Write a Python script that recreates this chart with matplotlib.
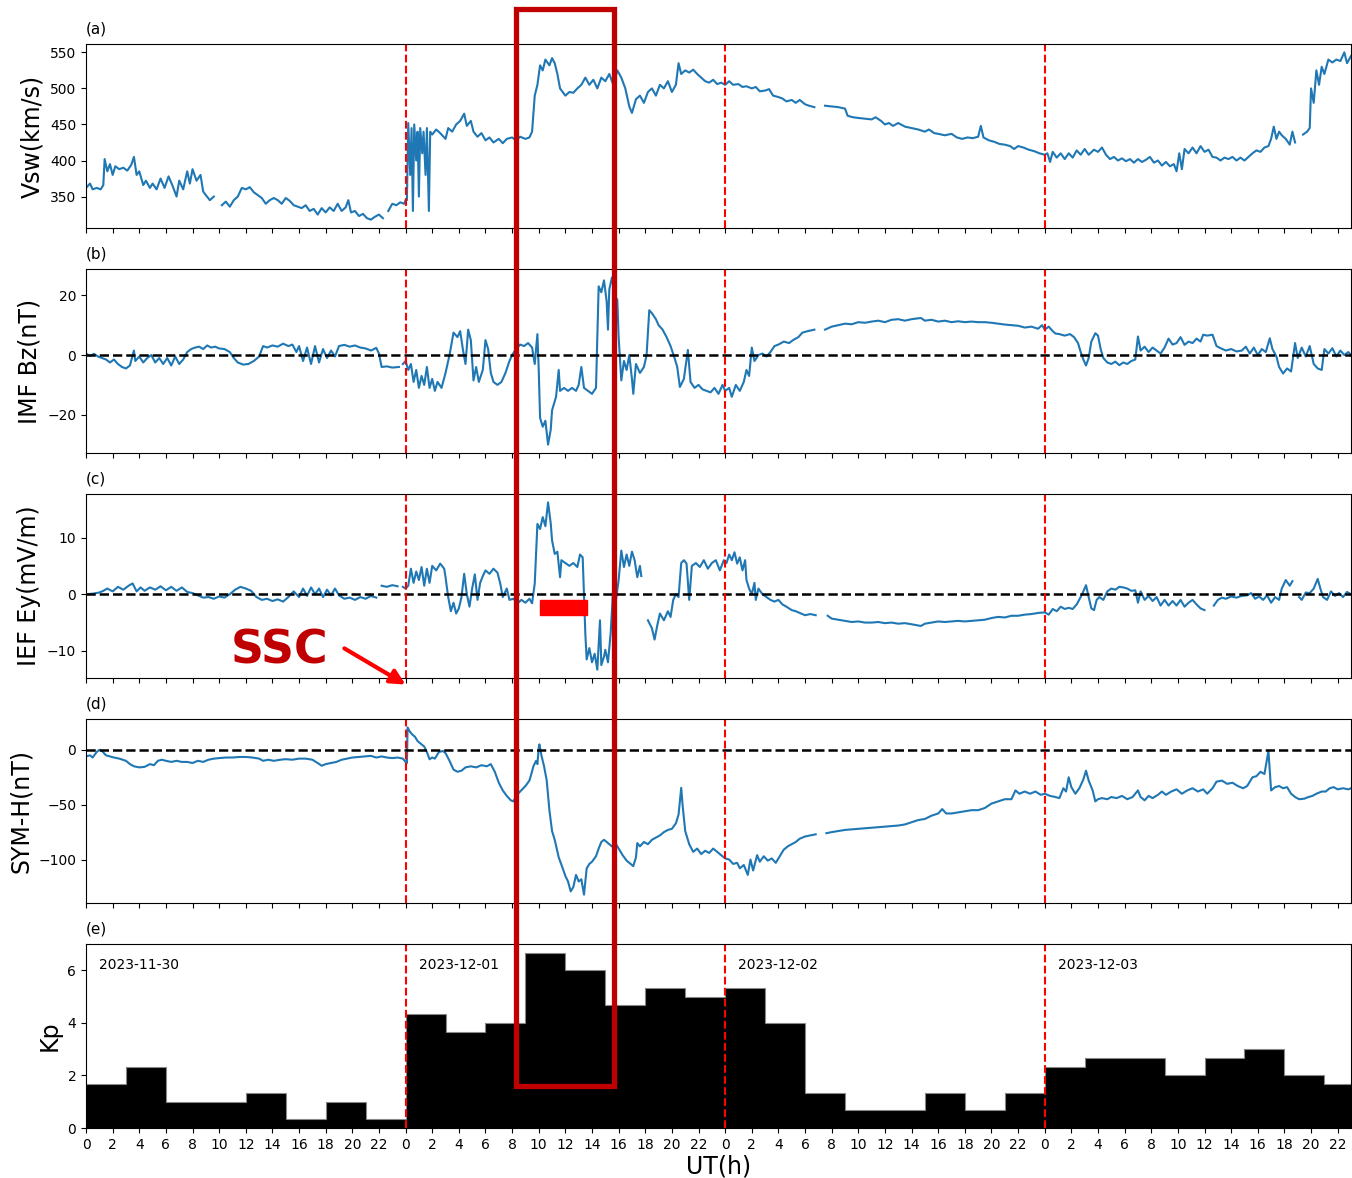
import numpy as np
import matplotlib
matplotlib.use("Agg")
import matplotlib.pyplot as plt
from matplotlib.patches import Rectangle, FancyArrowPatch

nan = np.nan

# (UT hour since 2023-11-30 00:00, value)
vsw = [
    (0.0, 362), (0.3, 368), (0.5, 360), (0.8, 362), (1.1, 360), (1.3, 366), (1.4, 402), (1.6, 385),
    (1.8, 395), (2.0, 380), (2.2, 392), (2.5, 388), (2.8, 390), (3.1, 386), (3.4, 394), (3.6, 405),
    (3.8, 380), (4.0, 385), (4.3, 366), (4.5, 372), (4.8, 362), (5.0, 368), (5.3, 360), (5.6, 375),
    (5.9, 362), (6.2, 378), (6.5, 365), (6.8, 350), (7.0, 372), (7.3, 360), (7.6, 385), (7.8, 368),
    (8.0, 388), (8.3, 372), (8.6, 380), (8.8, 357), (9.0, 352), (9.3, 345), (9.6, 350), (9.8, nan),
    (10.2, 338), (10.5, 343), (10.8, 336), (11.1, 345), (11.4, 350), (11.7, 362), (12.0, 360),
    (12.3, 363), (12.6, 356), (12.9, 352), (13.2, 348), (13.5, 340), (13.8, 345), (14.1, 348),
    (14.4, 345), (14.7, 340), (15.0, 348), (15.3, 344), (15.6, 338), (15.9, 336), (16.2, 334),
    (16.5, 338), (16.8, 330), (17.1, 333), (17.4, 325), (17.7, 334), (18.0, 328), (18.3, 335),
    (18.6, 330), (18.9, 340), (19.2, 330), (19.5, 335), (19.7, 345), (19.9, 328), (20.2, 330),
    (20.5, 323), (20.8, 326), (21.1, 320), (21.4, 318), (21.7, 322), (22.0, 325), (22.3, 320),
    (22.5, nan), (22.7, 330), (23.0, 340), (23.3, 338), (23.6, 342), (23.9, 340), (24.0, 345),
    (24.1, 345), (24.2, 452), (24.35, 380), (24.45, 445), (24.55, 330), (24.65, 450), (24.8, 400),
    (24.9, 440), (25.0, 350), (25.1, 445), (25.25, 410), (25.35, 440), (25.5, 380), (25.6, 445),
    (25.75, 330), (25.85, 440), (26.0, 436), (26.3, 443), (26.6, 438), (27.0, 430), (27.2, 445),
    (27.5, 440), (27.8, 450), (28.1, 455), (28.4, 465), (28.6, 448), (28.9, 455), (29.1, 440),
    (29.4, 433), (29.7, 438), (30.0, 428), (30.3, 432), (30.6, 425), (31.0, 430), (31.3, 424),
    (31.6, 430), (32.0, 432), (32.3, 428), (32.6, 433), (33.0, 430), (33.3, 432), (33.5, 440),
    (33.7, 490), (33.9, 505), (34.1, 532), (34.3, 525), (34.5, 540), (34.8, 532), (35.0, 542),
    (35.2, 535), (35.4, 520), (35.6, 500), (35.8, 495), (36.0, 490), (36.3, 495), (36.6, 494),
    (36.9, 500), (37.2, 505), (37.5, 515), (37.8, 505), (38.1, 512), (38.4, 500), (38.7, 515),
    (39.0, 510), (39.3, 520), (39.6, 505), (39.9, 525), (40.2, 515), (40.5, 500), (40.8, 475),
    (41.0, 466), (41.3, 485), (41.6, 490), (41.9, 480), (42.2, 495), (42.5, 500), (42.8, 490),
    (43.1, 505), (43.4, 500), (43.7, 510), (44.0, 495), (44.3, 505), (44.5, 535), (44.7, 520),
    (45.0, 525), (45.3, 522), (45.6, 526), (45.9, 520), (46.2, 515), (46.5, 510), (46.8, 508),
    (47.1, 512), (47.4, 506), (47.7, 508), (48.0, 505), (48.3, 510), (48.6, 505), (49.0, 506),
    (49.3, 502), (49.6, 503), (50.0, 500), (50.3, 502), (50.6, 496), (51.0, 497), (51.3, 499),
    (51.6, 490), (52.0, 488), (52.3, 486), (52.6, 482), (53.0, 484), (53.3, 480), (53.6, 484),
    (54.0, 478), (54.3, 476), (54.7, 474), (55.1, nan), (55.5, 476), (56.0, 475), (56.5, 474),
    (57.0, 472), (57.2, 462), (57.6, 460), (58.0, 459), (58.5, 458), (59.0, 457), (59.3, 460),
    (59.7, 455), (60.0, 450), (60.3, 452), (60.6, 448), (61.0, 452), (61.5, 447), (62.0, 445),
    (62.5, 443), (63.0, 440), (63.3, 443), (63.7, 438), (64.0, 437), (64.5, 435), (65.0, 437),
    (65.4, 432), (65.8, 430), (66.2, 432), (66.6, 431), (67.0, 433), (67.2, 448), (67.4, 432),
    (67.8, 428), (68.2, 426), (68.6, 423), (69.0, 422), (69.4, 420), (69.7, 416), (70.0, 420),
    (70.4, 418), (70.8, 415), (71.2, 413), (71.6, 410), (72.0, 408), (72.2, 410), (72.4, 398),
    (72.6, 412), (72.9, 404), (73.2, 410), (73.5, 402), (73.8, 410), (74.1, 404), (74.4, 414),
    (74.7, 408), (75.0, 416), (75.3, 408), (75.7, 415), (76.0, 412), (76.3, 418), (76.6, 408),
    (76.9, 402), (77.2, 405), (77.5, 400), (77.8, 403), (78.1, 399), (78.4, 402), (78.7, 397),
    (79.0, 402), (79.3, 398), (79.6, 401), (79.9, 405), (80.2, 397), (80.5, 400), (80.8, 393),
    (81.1, 398), (81.4, 392), (81.7, 395), (81.9, 385), (82.1, 410), (82.3, 388), (82.5, 416),
    (82.8, 410), (83.1, 418), (83.4, 410), (83.7, 420), (84.0, 412), (84.3, 415), (84.6, 405),
    (84.9, 404), (85.2, 400), (85.5, 404), (85.8, 402), (86.1, 405), (86.4, 400), (86.7, 404),
    (87.0, 400), (87.3, 405), (87.6, 410), (87.9, 414), (88.2, 412), (88.5, 418), (88.8, 420),
    (89.0, 430), (89.2, 447), (89.4, 430), (89.6, 440), (89.8, 435), (90.1, 430), (90.4, 422),
    (90.6, 440), (90.8, 425), (91.0, nan), (91.4, 436), (91.7, 440), (91.9, 445), (92.0, 500),
    (92.2, 480), (92.4, 525), (92.6, 505), (92.8, 530), (93.0, 520), (93.3, 540), (93.6, 536),
    (93.9, 540), (94.2, 538), (94.5, 550), (94.7, 535), (95.0, 545),
]

bz = [
    (0.0, 0.5), (0.3, -0.3), (0.6, 0.4), (0.9, -0.5), (1.2, -1.0), (1.5, -1.5), (1.8, -2.5),
    (2.1, -1.5), (2.4, -3.0), (2.7, -4.0), (3.0, -4.5), (3.3, -3.5), (3.6, 1.5), (3.7, -2.0),
    (4.0, -0.5), (4.3, -2.5), (4.6, -1.0), (4.9, 0.0), (5.2, -2.5), (5.5, -1.0), (5.8, -3.0),
    (6.1, -1.0), (6.4, -3.5), (6.7, -0.5), (7.0, -3.0), (7.3, -1.5), (7.6, 1.0), (7.9, 2.0),
    (8.2, 2.5), (8.5, 2.8), (8.8, 2.0), (9.1, 3.2), (9.4, 2.5), (9.7, 2.8), (10.0, 2.2),
    (10.4, 2.0), (10.8, 1.0), (11.1, -1.0), (11.4, -2.5), (11.8, -3.2), (12.2, -3.0), (12.6, -2.0),
    (13.0, -0.5), (13.3, 3.0), (13.6, 2.5), (14.0, 3.2), (14.4, 2.8), (14.8, 3.8), (15.2, 3.0),
    (15.5, 3.5), (15.8, 1.0), (16.0, 3.0), (16.3, -2.0), (16.6, 2.5), (16.9, -3.0), (17.2, 3.0),
    (17.5, -2.5), (17.8, 2.0), (18.1, -1.0), (18.4, 1.5), (18.7, -0.5), (19.0, 3.0), (19.4, 3.4),
    (19.8, 2.8), (20.2, 3.2), (20.6, 2.5), (21.0, 2.2), (21.4, 1.5), (21.8, 2.4), (22.0, 0.5),
    (22.2, -4.0), (22.6, -3.8), (23.0, -4.2), (23.5, -4.0), (23.7, nan), (23.8, -3.0), (24.0, -2.0),
    (24.2, -5), (24.4, -3), (24.6, -9), (24.8, -5), (25.0, -11), (25.2, -7), (25.4, -10),
    (25.6, -4), (25.8, -11), (26.0, -8), (26.2, -12), (26.4, -9), (26.7, -11), (27.0, -6),
    (27.3, 0), (27.6, 7.5), (27.9, 6.0), (28.1, 8), (28.3, 2), (28.5, -3), (28.7, 8.5), (28.9, 5),
    (29.1, -8.5), (29.3, -4), (29.5, -9), (29.8, -5), (30.0, 5), (30.2, 2), (30.4, -6), (30.6, -9),
    (30.9, -10), (31.2, -9), (31.5, -6), (31.8, -2), (32.0, 0), (32.3, 2), (32.6, 3.5), (32.9, 3),
    (33.2, 4), (33.5, 2.5), (33.7, -3), (33.9, 7), (34.0, -5), (34.1, -21), (34.3, -24),
    (34.5, -22), (34.7, -30), (34.9, -25), (35.0, -18.5), (35.3, -14), (35.5, -5), (35.6, -12),
    (35.9, -11), (36.2, -12), (36.5, -11), (36.8, -12), (37.0, -10), (37.2, -4), (37.4, -11),
    (37.7, -12), (38.0, -13), (38.3, -11), (38.4, 6), (38.5, 23), (38.7, 21), (38.9, 25),
    (39.1, 18), (39.2, 8.5), (39.3, 22), (39.5, 26), (39.7, 20), (39.9, 18.5), (40.0, 6),
    (40.2, -8.5), (40.4, -2), (40.6, -5), (40.8, 0), (41.0, -8), (41.1, -13), (41.3, -3),
    (41.6, -6), (41.9, -4), (42.1, 0), (42.3, 15), (42.5, 14), (42.8, 12), (43.0, 10), (43.3, 8.5),
    (43.6, 6), (43.9, 3), (44.2, -1), (44.4, -4), (44.6, -10.7), (44.9, -8), (45.2, 1.7),
    (45.4, -9), (45.7, -11), (46.0, -10), (46.3, -11.5), (46.6, -12), (46.9, -12.5), (47.2, -11),
    (47.5, -13), (47.8, -10), (48.0, -12), (48.3, -11), (48.5, -14), (48.8, -10), (49.1, -12),
    (49.4, -9), (49.6, -5), (49.8, -7), (50.0, 2.5), (50.2, -2), (50.5, 0), (50.8, 0.5),
    (51.1, -0.5), (51.4, 1.0), (51.7, 3), (52.0, 3.5), (52.4, 4.5), (52.8, 4), (53.1, 5),
    (53.5, 6.0), (53.8, 7.5), (54.2, 8), (54.7, 8.5), (55.1, nan), (55.5, 8.5), (56.0, 9.5),
    (56.5, 10), (57.0, 10.5), (57.5, 10.3), (58.0, 11), (58.5, 10.8), (59.0, 11.2), (59.5, 11.5),
    (60.0, 11.0), (60.5, 11.8), (61.0, 12.0), (61.5, 11.5), (62.0, 12.0), (62.7, 12.4),
    (63.0, 11.5), (63.5, 11.8), (64.0, 11.2), (64.5, 11.5), (65.0, 11.0), (65.5, 11.3),
    (66.0, 11.0), (66.5, 11.2), (67.0, 11.0), (67.5, 11.0), (68.0, 10.8), (68.5, 10.5),
    (69.0, 10.2), (69.5, 10.0), (70.0, 9.8), (70.5, 9.2), (71.0, 9.5), (71.5, 8.8), (71.8, 10),
    (72.0, 8.5), (72.3, 9.5), (72.6, 8.0), (72.8, 7.2), (73.1, 7.0), (73.5, 6.5), (73.9, 7.0),
    (74.2, 6.0), (74.5, 4.0), (74.7, 1.0), (74.9, -1.5), (75.1, -3.5), (75.3, -1), (75.5, 4.5),
    (75.8, 7.3), (76.0, 6.5), (76.2, 2), (76.4, -1), (76.7, -2.5), (77.0, -3.0), (77.3, -2.2),
    (77.6, -3.4), (77.9, -2.5), (78.2, -3.0), (78.5, -2.0), (78.8, -1.5), (79.0, 6.2), (79.2, 1.5),
    (79.5, 2.8), (79.8, 1.0), (80.1, 2.5), (80.4, 1.5), (80.7, 0.5), (81.0, 2.5), (81.3, 5.5),
    (81.6, 3.5), (81.9, 4.0), (82.2, 6.0), (82.5, 3.4), (82.8, 4.5), (83.1, 4.0), (83.4, 5.5),
    (83.7, 4.5), (83.9, 6.8), (84.2, 6.5), (84.6, 6.8), (84.9, 3.0), (85.2, 2.3), (85.6, 1.5),
    (86.0, 2.0), (86.4, 1.2), (86.8, 1.5), (87.1, 2.8), (87.4, 0.5), (87.7, 2.5), (88.0, 0),
    (88.3, 2.0), (88.6, 1.0), (88.9, 5.6), (89.1, 2.0), (89.4, -0.5), (89.6, -4.0), (89.9, -6.2),
    (90.2, -4.5), (90.5, -5.5), (90.8, 4.0), (91.0, -1.0), (91.3, 2.5), (91.6, -0.5), (91.9, 3.0),
    (92.2, -3.0), (92.5, -4.5), (92.8, -5.0), (93.0, 2.0), (93.3, 0.5), (93.6, 2.3), (93.9, -0.5),
    (94.2, 1.5), (94.5, 0.0), (94.8, 1.0), (95.0, 0.0),
]

ey = [
    (0.0, 0.0), (0.5, 0.1), (1.0, 0.3), (1.3, 0.6), (1.6, 1.0), (2.0, 0.5), (2.4, 1.3), (2.8, 0.8),
    (3.2, 1.5), (3.5, 1.9), (3.8, 0.5), (4.1, 1.2), (4.4, 0.6), (4.8, 1.2), (5.2, 0.8), (5.6, 1.4),
    (6.0, 0.7), (6.4, 1.3), (6.8, 0.6), (7.2, 1.2), (7.6, 0.4), (8.0, 0.2), (8.4, -0.2),
    (8.8, -0.6), (9.2, -0.5), (9.6, -0.8), (10.0, -0.4), (10.4, -0.6), (10.8, 0.0), (11.2, 0.8),
    (11.6, 1.3), (12.0, 1.0), (12.4, 0.6), (12.8, -0.5), (13.2, -1.0), (13.6, -0.8), (14.0, -1.2),
    (14.4, -0.9), (14.8, -1.3), (15.2, -0.5), (15.6, 0.5), (16.0, -0.5), (16.3, 1.0), (16.6, -0.3),
    (16.9, 1.2), (17.2, 0.0), (17.5, 1.0), (17.8, -0.5), (18.1, 0.8), (18.4, -0.2), (18.7, 1.0),
    (19.0, -0.2), (19.4, -0.8), (19.8, -0.6), (20.2, -1.0), (20.6, -0.5), (21.0, -0.8),
    (21.4, -0.3), (21.8, -0.6), (22.0, nan), (22.2, 1.5), (22.6, 1.3), (23.0, 1.6), (23.4, 1.4),
    (23.6, nan), (23.8, 1.3), (24.0, 1.0), (24.2, 1.5), (24.4, 4.5), (24.6, 2.0), (24.8, 4.0),
    (25.0, 2.5), (25.2, 4.8), (25.4, 1.5), (25.6, 4.5), (25.8, 2.0), (26.0, 5.0), (26.3, 4.2),
    (26.6, 5.4), (26.9, 4.5), (27.0, 3.0), (27.2, -0.5), (27.4, -3.0), (27.6, -1.5), (27.8, -3.4),
    (28.0, -2.5), (28.2, -0.5), (28.4, 3.6), (28.6, 0), (28.8, -2.2), (29.0, 1.0), (29.2, 3.5),
    (29.4, -1.0), (29.6, 2.0), (29.8, 3.2), (30.0, 4.2), (30.3, 3.6), (30.6, 4.5), (30.9, 3.8),
    (31.1, 2.0), (31.3, -0.5), (31.6, 1.0), (31.8, -1.0), (32.1, -0.8), (32.4, -1.6), (32.7, -1.0),
    (33.0, -1.5), (33.3, -0.8), (33.5, -1.6), (33.7, 1.9), (33.9, 12.4), (34.1, 11.5),
    (34.3, 13.6), (34.5, 12.0), (34.7, 16.2), (34.9, 12.5), (35.0, 9.5), (35.2, 7.1), (35.4, 7.5),
    (35.6, 3.0), (35.7, 6.0), (36.0, 5.5), (36.3, 5.0), (36.6, 5.5), (36.9, 4.8), (37.1, 7.0),
    (37.3, 6.5), (37.4, 0.0), (37.5, -7.0), (37.6, -11.5), (37.8, -9.5), (38.0, -12.0),
    (38.2, -10.5), (38.4, -13.3), (38.6, -4.6), (38.7, -12.5), (38.9, -11.0), (39.0, -9.8),
    (39.2, -12.0), (39.4, -6.9), (39.6, 1.3), (39.8, -1.0), (40.0, 2.5), (40.2, 7.7), (40.4, 4.8),
    (40.6, 7.0), (40.8, 5.0), (41.0, 7.5), (41.2, 6.0), (41.4, 3.0), (41.6, 5.0), (41.7, 3.2),
    (41.9, nan), (42.2, -4.6), (42.5, -6.0), (42.7, -8.0), (42.9, -5.5), (43.1, -3.4), (43.4, -4.6),
    (43.7, -3.0), (43.9, -4.0), (44.1, -1.0), (44.3, 0.0), (44.5, -0.5), (44.7, 5.5), (44.9, 6.0),
    (45.1, 5.4), (45.3, -1.0), (45.5, 5.0), (45.8, 5.5), (46.1, 4.8), (46.4, 6.0), (46.7, 4.5),
    (47.0, 5.5), (47.3, 6.0), (47.6, 4.2), (47.9, 6.0), (48.1, 5.5), (48.3, 7.0), (48.5, 6.0),
    (48.7, 7.4), (48.9, 5.4), (49.1, 6.5), (49.3, 4.2), (49.5, 6.0), (49.6, 2.5), (49.8, 1.0),
    (50.0, 0.0), (50.2, 2.0), (50.3, -1.0), (50.5, 1.0), (50.8, 0.0), (51.1, -0.5), (51.4, -1.0),
    (51.7, -1.3), (52.0, -1.0), (52.3, -1.8), (52.6, -2.2), (53.0, -2.8), (53.3, -3.0),
    (53.7, -3.4), (54.0, -3.7), (54.4, -3.5), (54.8, -3.7), (55.2, nan), (55.7, -3.8), (56.0, -4.3),
    (56.5, -4.5), (57.0, -4.7), (57.5, -4.9), (58.0, -4.8), (58.5, -5.0), (59.0, -5.0),
    (59.5, -4.9), (60.0, -5.1), (60.5, -5.0), (61.0, -5.2), (61.5, -5.1), (62.0, -5.3),
    (62.7, -5.6), (63.0, -5.2), (63.5, -5.0), (64.0, -4.8), (64.5, -4.9), (65.0, -4.8),
    (65.5, -4.7), (66.0, -4.8), (66.5, -4.7), (67.0, -4.6), (67.5, -4.5), (68.0, -4.2),
    (68.5, -4.0), (69.0, -4.1), (69.5, -3.8), (70.0, -3.8), (70.5, -3.6), (71.0, -3.5),
    (71.5, -3.3), (72.0, -3.2), (72.3, -3.6), (72.6, -2.6), (72.9, -3.0), (73.2, -2.2),
    (73.5, -2.6), (73.8, -2.4), (74.1, -2.6), (74.4, -1.8), (74.7, -0.5), (74.9, 0.5), (75.1, 1.6),
    (75.3, -0.5), (75.5, -2.5), (75.7, -2.8), (75.9, -1.0), (76.1, -0.5), (76.4, -1.0), (76.7, 0.5),
    (77.0, 1.0), (77.3, 0.8), (77.6, 1.3), (77.9, 1.2), (78.2, 1.0), (78.5, 0.6), (78.8, 0.7),
    (79.0, -1.5), (79.2, 0.5), (79.5, -1.0), (79.8, -0.3), (80.1, -1.2), (80.4, -0.5), (80.7, -2.0),
    (81.0, -1.0), (81.3, -2.0), (81.6, -1.2), (81.9, -2.0), (82.2, -1.0), (82.5, -2.2),
    (82.8, -1.5), (83.1, -1.0), (83.4, -1.8), (83.7, -2.5), (84.0, -2.8), (84.3, nan), (84.7, -2.0),
    (85.0, -1.0), (85.3, -0.6), (85.6, -0.8), (86.0, -0.4), (86.4, -0.6), (86.8, -0.3),
    (87.2, -0.2), (87.5, 0.2), (87.8, -0.8), (88.1, -0.4), (88.4, -1.0), (88.7, -0.2), (89.0, -1.5),
    (89.3, -0.5), (89.6, -1.0), (89.8, 1.0), (90.1, 2.5), (90.4, 1.5), (90.6, 2.3), (90.8, nan),
    (91.1, -0.5), (91.3, -1.0), (91.6, 0.3), (91.9, 0.2), (92.2, 1.0), (92.5, 2.7), (92.7, 1.0),
    (92.9, -0.5), (93.2, -1.0), (93.5, 0.5), (93.8, -0.3), (94.1, 0.2), (94.4, -0.5), (94.7, 0.4),
    (95.0, 0.0),
]

symh = [
    (0.0, -6), (0.3, -5), (0.5, -7), (0.8, -2), (1.0, 0), (1.2, -1), (1.5, -5), (1.8, -6),
    (2.1, -7), (2.5, -8), (3.0, -10), (3.3, -13), (3.6, -15), (4.0, -16), (4.4, -15.5), (4.8, -13),
    (5.1, -14), (5.4, -10), (5.7, -9), (6.0, -10), (6.4, -11), (6.8, -10), (7.2, -11), (7.6, -11),
    (8.0, -12), (8.4, -10), (8.8, -11), (9.2, -9), (9.6, -8), (10.0, -7.5), (10.5, -7), (11.0, -7),
    (11.5, -6.5), (12.0, -6.5), (12.5, -7), (13.0, -8), (13.3, -10), (13.7, -9), (14.1, -10),
    (14.6, -9), (15.0, -8.5), (15.5, -9), (16.0, -8), (16.5, -8), (17.0, -9), (17.4, -12),
    (17.7, -14.5), (18.0, -13), (18.4, -12), (18.8, -11), (19.2, -9), (19.6, -8), (20.0, -7),
    (20.5, -6.5), (21.0, -6), (21.4, -5.5), (21.8, -7), (22.2, -6), (22.6, -7), (23.0, -7.5),
    (23.4, -7), (23.8, -8), (24.0, -11), (24.1, -12), (24.15, 20.5), (24.3, 17), (24.5, 14),
    (24.7, 12), (24.9, 8), (25.1, 6), (25.4, 3), (25.6, -2), (25.8, -8.6), (26.0, -7), (26.2, -8),
    (26.5, -2), (26.8, -1), (27.0, -3), (27.3, -10), (27.6, -18), (27.9, -20), (28.2, -19),
    (28.5, -16), (28.9, -15), (29.3, -16), (29.7, -14), (30.1, -15), (30.4, -13), (30.7, -20),
    (31.0, -30), (31.3, -37), (31.6, -42), (31.9, -46), (32.1, -47), (32.3, -42), (32.6, -38),
    (33.0, -33), (33.3, -28), (33.4, -24), (33.6, -15), (33.8, -10), (33.9, -13), (34.0, 2),
    (34.05, 5), (34.2, -5), (34.4, -15), (34.6, -28), (34.8, -55), (35.0, -74), (35.2, -82),
    (35.5, -98), (35.8, -108), (36.0, -115), (36.2, -120), (36.4, -129), (36.6, -125),
    (36.8, -114), (37.0, -120), (37.2, -118), (37.4, -132), (37.6, -108), (37.8, -104),
    (38.0, -102), (38.3, -97), (38.5, -90), (38.7, -84), (38.9, -82), (39.2, -85), (39.5, -88),
    (39.8, -86), (40.0, -90), (40.3, -96), (40.6, -101), (40.9, -104), (41.1, -106), (41.3, -98),
    (41.4, -85), (41.6, -88), (41.9, -84), (42.2, -86), (42.5, -82), (42.8, -80), (43.1, -78),
    (43.4, -75), (43.7, -73), (44.0, -72), (44.3, -67), (44.5, -59), (44.7, -34.6), (44.8, -50),
    (45.0, -74), (45.3, -86), (45.6, -93), (45.9, -90), (46.2, -95), (46.5, -92), (46.8, -94),
    (47.1, -90), (47.4, -93), (47.7, -96), (48.0, -99), (48.3, -100), (48.6, -104), (48.9, -103),
    (49.1, -108), (49.4, -105), (49.7, -114), (49.9, -100), (50.1, -110), (50.4, -96),
    (50.6, -102), (50.9, -97), (51.2, -101), (51.5, -99), (51.8, -103), (52.1, -97), (52.4, -91),
    (52.7, -88), (53.0, -86), (53.3, -84), (53.6, -81), (54.0, -79), (54.4, -78), (54.8, -77),
    (55.2, nan), (55.6, -76), (56.0, -75), (56.5, -74), (57.0, -73), (57.5, -72.5), (58.0, -72),
    (58.5, -71.5), (59.0, -71), (59.5, -70.5), (60.0, -70), (60.5, -69.5), (61.0, -69),
    (61.5, -68), (62.0, -66), (62.5, -64), (63.0, -63), (63.5, -60), (64.0, -58), (64.3, -54),
    (64.6, -58), (65.0, -58), (65.5, -57), (66.0, -56), (66.5, -55), (67.0, -55), (67.5, -53),
    (68.0, -49), (68.5, -47), (69.0, -45), (69.5, -45), (69.8, -37), (70.1, -40), (70.5, -38),
    (70.9, -40), (71.3, -38), (71.7, -41), (72.0, -40), (72.4, -42), (72.8, -43), (73.1, -44),
    (73.4, -35), (73.6, -38), (73.8, -25), (74.0, -34), (74.3, -40), (74.6, -35), (74.9, -27),
    (75.1, -19), (75.3, -28), (75.6, -37), (75.8, -47), (76.0, -45), (76.3, -44), (76.7, -45),
    (77.0, -43), (77.4, -44), (77.8, -42), (78.2, -45), (78.6, -43), (79.0, -37), (79.2, -43),
    (79.5, -46), (79.8, -42), (80.1, -44), (80.5, -41), (80.8, -38), (81.1, -41), (81.5, -38),
    (81.9, -36), (82.3, -40), (82.7, -37), (83.1, -35), (83.5, -38), (83.9, -36), (84.2, -40),
    (84.6, -35), (84.9, -29), (85.3, -28), (85.7, -31), (86.1, -30), (86.5, -33), (86.9, -35),
    (87.2, -33), (87.6, -25), (87.9, -24), (88.2, -20), (88.5, -22), (88.8, -1), (89.0, -37),
    (89.3, -34), (89.6, -33), (89.9, -35), (90.2, -34), (90.5, -40), (90.8, -43), (91.1, -45),
    (91.5, -44.5), (91.8, -43), (92.1, -42), (92.4, -40), (92.8, -38), (93.1, -38), (93.4, -35),
    (93.7, -34), (94.0, -36), (94.4, -35), (94.8, -36), (95.0, -35),
]

# 3-hourly Kp, one row per day
kp = [
    [1.67, 2.33, 1.0, 1.0, 1.33, 0.33, 1.0, 0.33],
    [4.33, 3.67, 4.0, 6.67, 6.0, 4.67, 5.33, 5.0],
    [5.33, 4.0, 1.33, 0.67, 0.67, 1.33, 0.67, 1.33],
    [2.33, 2.67, 2.67, 2.0, 2.67, 3.0, 2.0, 1.67],
]

dates = ["2023-11-30", "2023-12-01", "2023-12-02", "2023-12-03"]
hour_ticks = list(range(0, 96, 2))
hour_labels = [str(h % 24) for h in hour_ticks]

panel_tags = ["(a)", "(b)", "(c)", "(d)", "(e)"]
ylabels = ["Vsw(km/s)", "IMF Bz(nT)", "IEF Ey(mV/m)", "SYM-H(nT)", "Kp"]


def main():
    W, H = 1352, 1178
    fig = plt.figure(figsize=(W / 100, H / 100), dpi=100)

    left, right = 86 / W, 1351 / W
    tops = [44, 269, 494, 719, 944]
    ph = 184
    axes = []
    for top in tops:
        ax = fig.add_axes([left, 1 - (top + ph) / H, right - left, ph / H])
        axes.append(ax)

    series = [vsw, bz, ey, symh]
    for ax, s in zip(axes[:4], series):
        arr = np.array(s, dtype=float)
        ax.plot(arr[:, 0], arr[:, 1], color="tab:blue", lw=1.5)

    for ax in axes[1:4]:
        ax.axhline(0, color="k", ls="--", lw=1.8)

    # Kp as filled 3-hour steps
    kp_flat = np.concatenate([np.array(d) for d in kp])
    kp_edges = np.arange(len(kp_flat) + 1) * 3.0
    axes[4].stairs(kp_flat, kp_edges, fill=True, color="black")
    axes[4].stairs(kp_flat, kp_edges, color="#888888", lw=0.8, baseline=None)
    axes[4].set_ylim(0, 7)
    axes[4].set_yticks([0, 2, 4, 6])
    for i, d in enumerate(dates):
        axes[4].text(24 * i + 1, 6.2, d, fontsize=10, va="center", ha="left")

    for i, ax in enumerate(axes):
        ax.set_xlim(0, 95)
        for day in (24, 48, 72):
            ax.axvline(day, color="red", ls="--", lw=1.5)
        ax.set_xticks(hour_ticks)
        ax.tick_params(labelsize=10)
        if i < 4:
            ax.set_xticklabels([])
        else:
            ax.set_xticklabels(hour_labels)
        ax.set_ylabel(ylabels[i], fontsize=17)
        ax.text(0.0, 1.04, panel_tags[i], transform=ax.transAxes, fontsize=11,
                ha="left", va="bottom")

    axes[0].set_yticks([350, 400, 450, 500, 550])
    axes[1].set_yticks([-20, 0, 20])
    axes[2].set_yticks([-10, 0, 10])
    axes[3].set_yticks([-100, -50, 0])
    axes[4].set_xlabel("UT(h)", fontsize=17, labelpad=2)

    # main phase marker on IEF Ey
    axes[2].add_patch(Rectangle((34.1, -3.75), 3.5, 2.7, color="red", zorder=5))

    # storm interval box spanning all panels
    box = Rectangle((515.5 / W, 1 - 1085.5 / H), 98 / W, 1077 / H,
                    transform=fig.transFigure, fill=False, edgecolor="#C00000",
                    lw=3.8, zorder=20)
    fig.add_artist(box)

    fig.text(280 / W, 1 - 663 / H, "SSC", fontsize=33, fontweight="bold",
             color="#C00000", ha="center", va="baseline")
    arrow = FancyArrowPatch((342 / W, 1 - 647 / H), (408 / W, 1 - 686 / H),
                            transform=fig.transFigure, arrowstyle="-|>",
                            mutation_scale=22, color="red", lw=3, zorder=20)
    fig.add_artist(arrow)

    fig.savefig("out.png", dpi=100)


if __name__ == "__main__":
    main()
